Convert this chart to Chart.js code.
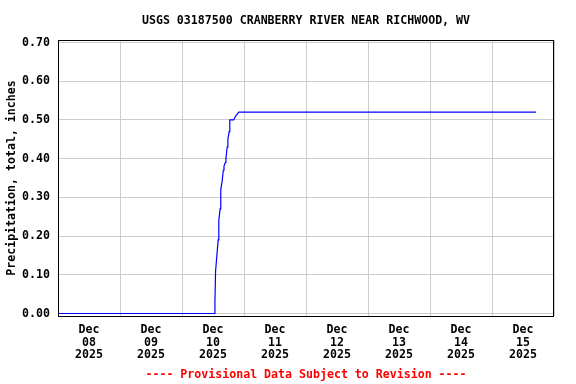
<!DOCTYPE html>
<html>
<head>
<meta charset="utf-8">
<script src="https://cdn.jsdelivr.net/npm/chart.js@4/dist/chart.umd.min.js"></script>
<style>
html,body{margin:0;padding:0;background:#fff;}
#wrap{width:576px;height:384px;position:relative;}
</style>
</head>
<body>
<div id="wrap"><canvas id="c" width="576" height="384"></canvas></div>
<script>
// Hours since Dec 08 2025 00:00
const hours = [0, 60.5, 60.75, 61, 61.5, 62, 62.25, 62.75, 63, 63.5, 64, 64.25, 64.75, 65, 65.5, 65.75, 66.25, 66.5, 68, 68.75, 70, 185];
const precip = [0, 0, 0.03, 0.11, 0.15, 0.19, 0.24, 0.27, 0.32, 0.34, 0.37, 0.38, 0.39, 0.40, 0.43, 0.45, 0.47, 0.50, 0.50, 0.51, 0.52, 0.52];
const dayLabels = [['Dec','08','2025'],['Dec','09','2025'],['Dec','10','2025'],['Dec','11','2025'],['Dec','12','2025'],['Dec','13','2025'],['Dec','14','2025'],['Dec','15','2025']];
const yTicks = [0, 0.1, 0.2, 0.3, 0.4, 0.5, 0.6, 0.7];
const chartTitle = 'USGS 03187500 CRANBERRY RIVER NEAR RICHWOOD, WV';
const footer = '---- Provisional Data Subject to Revision ----';
const yTitle = 'Precipitation, total, inches';

const FONT = "'DejaVu Sans Mono', 'Liberation Mono', monospace";
const FS = 11.6;

const points = hours.map((h, i) => ({x: h, y: precip[i]}));

const textPlugin = {
  id: 'texts',
  afterDraw(chart) {
    const ctx = chart.ctx;
    const a = chart.chartArea;
    ctx.save();
    ctx.strokeStyle = '#000';
    ctx.lineWidth = 1;
    ctx.strokeRect(Math.round(a.left) + 0.5, Math.round(a.top) + 0.5, Math.round(a.right - a.left) - 1, Math.round(a.bottom - a.top));
    ctx.font = 'bold ' + FS + 'px ' + FONT;
    ctx.textAlign = 'center';
    ctx.textBaseline = 'middle';
    ctx.fillStyle = '#000';
    ctx.fillText(chartTitle, (a.left + a.right) / 2, 20.5);
    ctx.fillStyle = '#ff0000';
    ctx.fillText(footer, (a.left + a.right) / 2, 375);
    ctx.restore();
  }
};

new Chart(document.getElementById('c'), {
  type: 'line',
  data: {
    datasets: [{
      data: points,
      borderColor: '#0000ff',
      borderWidth: 1.2,
      pointRadius: 0,
      fill: false,
      tension: 0
    }]
  },
  options: {
    responsive: false,
    animation: false,
    layout: {padding: {top: 40, right: 22, bottom: 0, left: 0}},
    plugins: {legend: {display: false}, tooltip: {enabled: false}},
    scales: {
      x: {
        type: 'linear',
        min: 0,
        max: 192,
        afterBuildTicks(scale) {
          const t = [];
          for (let h = 0; h <= 192; h += 12) t.push({value: h});
          scale.ticks = t;
        },
        afterFit(scale) { scale.height = 68; },
        grid: {
          drawTicks: false,
          color: ctx => (ctx.tick && ctx.tick.value % 24 === 0) ? '#cccccc' : 'rgba(0,0,0,0)',
          lineWidth: 1
        },
        border: {display: false},
        ticks: {
          autoSkip: false,
          maxRotation: 0,
          padding: 7,
          color: '#000',
          font: {family: FONT, size: FS, weight: 'bold', lineHeight: 1.12},
          callback: (v) => (v % 24 === 12) ? dayLabels[(v - 12) / 24] : ''
        }
      },
      y: {
        type: 'linear',
        min: -0.00646,
        max: 0.70646,
        afterBuildTicks(scale) { scale.ticks = yTicks.map(v => ({value: v})); },
        afterFit(scale) { scale.width = 58; },
        grid: {drawTicks: false, color: '#cccccc', lineWidth: 1},
        border: {display: false},
        ticks: {
          padding: 8,
          color: '#000',
          font: {family: FONT, size: FS, weight: 'bold'},
          callback: v => v.toFixed(2)
        },
        title: {
          display: true,
          text: yTitle,
          color: '#000',
          font: {family: FONT, size: FS, weight: 'bold'},
          padding: {top: 5, bottom: 0}
        }
      }
    }
  },
  plugins: [textPlugin]
});
</script>
</body>
</html>
